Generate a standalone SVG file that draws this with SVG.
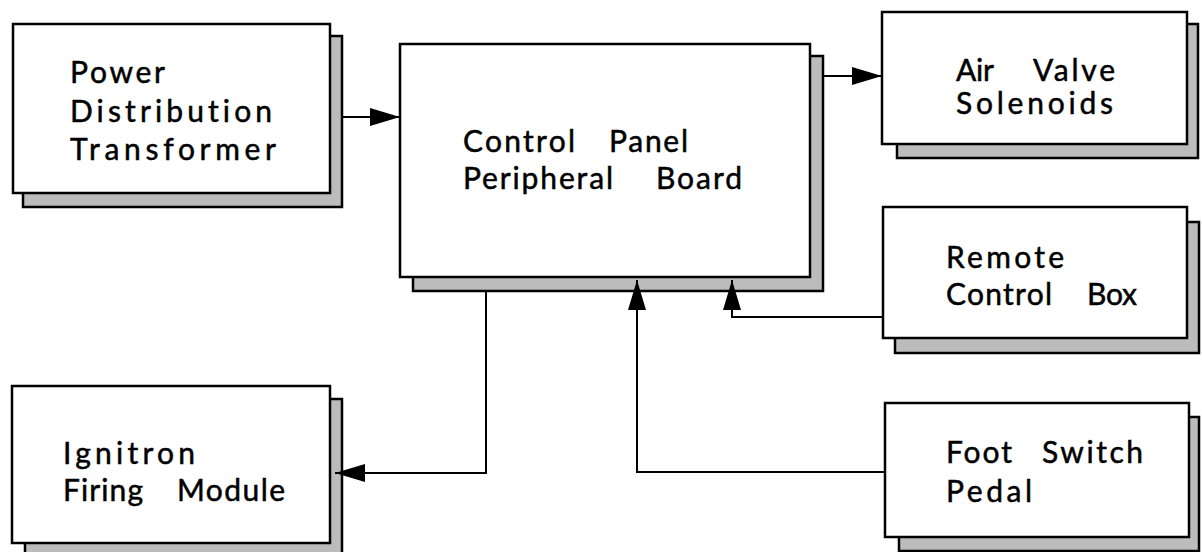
<svg xmlns="http://www.w3.org/2000/svg" width="1202" height="552" viewBox="0 0 1202 552">
<style>
.shadow{fill:#bcbcbc;stroke:#000;stroke-width:2.5}
.box{fill:#fff;stroke:#000;stroke-width:2.5}
.t{font-family:Lato,"Liberation Sans",sans-serif;font-size:30px;fill:#000;stroke:#000;stroke-width:0.5;font-variant-ligatures:none}
.wire{fill:none;stroke:#000;stroke-width:2}
</style>
<defs>
<marker id="ah" markerUnits="userSpaceOnUse" markerWidth="32" markerHeight="20" refX="30" refY="9" orient="auto">
<path d="M0,0 L30,9 L0,18 z" fill="#000"/>
</marker>
</defs>
<rect width="1202" height="552" fill="#fff"/>
<g id="power">
<rect class="shadow" x="23" y="36" width="319" height="171"/>
<rect class="box" x="13" y="24" width="317" height="169"/>
<text class="t" x="70" y="83" textLength="95" lengthAdjust="spacing">Power</text>
<text class="t" x="70" y="122" textLength="202" lengthAdjust="spacing">Distribution</text>
<text class="t" x="70" y="160" textLength="206" lengthAdjust="spacing">Transformer</text>
</g>
<g id="control">
<rect class="shadow" x="413" y="56" width="410" height="235"/>
<rect class="box" x="400" y="44" width="410" height="233"/>
<text class="t" x="463" y="152" textLength="112" lengthAdjust="spacing">Control</text>
<text class="t" x="609" y="152" textLength="79" lengthAdjust="spacing">Panel</text>
<text class="t" x="463" y="189" textLength="150" lengthAdjust="spacing">Peripheral</text>
<text class="t" x="656" y="189" textLength="86" lengthAdjust="spacing">Board</text>
</g>
<g id="airvalve">
<rect class="shadow" x="897" y="24" width="301" height="134"/>
<rect class="box" x="882" y="12" width="305" height="132"/>
<text class="t" x="956" y="81" textLength="38" lengthAdjust="spacing">Air</text>
<text class="t" x="1033" y="81" textLength="82" lengthAdjust="spacing">Valve</text>
<text class="t" x="956" y="114" textLength="157" lengthAdjust="spacing">Solenoids</text>
</g>
<g id="remote">
<rect class="shadow" x="895" y="222" width="304" height="131"/>
<rect class="box" x="883" y="207" width="304" height="131"/>
<text class="t" x="946" y="268" textLength="118" lengthAdjust="spacing">Remote</text>
<text class="t" x="946" y="305" textLength="106" lengthAdjust="spacing">Control</text>
<text class="t" x="1087" y="305" textLength="50" lengthAdjust="spacing">Box</text>
</g>
<g id="foot">
<rect class="shadow" x="899" y="417" width="300" height="134"/>
<rect class="box" x="885" y="403" width="304" height="134"/>
<text class="t" x="946" y="463" textLength="66" lengthAdjust="spacing">Foot</text>
<text class="t" x="1042" y="463" textLength="101" lengthAdjust="spacing">Switch</text>
<text class="t" x="946" y="502" textLength="86" lengthAdjust="spacing">Pedal</text>
</g>
<g id="ignitron">
<rect class="shadow" x="25" y="399" width="317" height="170"/>
<rect class="box" x="12" y="386" width="318" height="157"/>
<text class="t" x="63" y="464" textLength="132" lengthAdjust="spacing">Ignitron</text>
<text class="t" x="63" y="501" textLength="80" lengthAdjust="spacing">Firing</text>
<text class="t" x="177" y="501" textLength="108" lengthAdjust="spacing">Module</text>
</g>
<g id="connectors">
<line class="wire" x1="342" y1="117" x2="400" y2="117" marker-end="url(#ah)"/>
<line class="wire" x1="823" y1="76" x2="882" y2="76" marker-end="url(#ah)"/>
<polyline class="wire" points="486,291 486,473 335,473" marker-end="url(#ah)"/>
<polyline class="wire" points="885,472 637,472 637,280" marker-end="url(#ah)"/>
<polyline class="wire" points="883,317 732,317 732,280" marker-end="url(#ah)"/>
</g>
</svg>
